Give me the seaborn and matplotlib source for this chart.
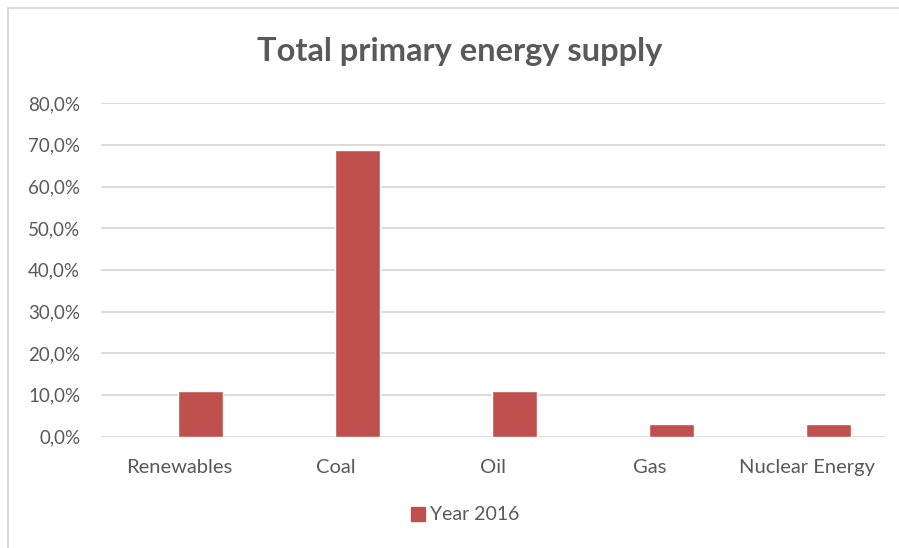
import numpy as np
import pandas as pd
import matplotlib
matplotlib.use("Agg")
import matplotlib.pyplot as plt
import seaborn as sns
from matplotlib.patches import Patch
from matplotlib.lines import Line2D
from matplotlib.ticker import FuncFormatter, MultipleLocator

# Share of total primary energy supply, year 2016 (percent)
categories = ["Renewables", "Coal", "Oil", "Gas", "Nuclear Energy"]
share_2016 = [11.0, 68.8, 11.0, 3.0, 3.0]
series_name = "Year 2016"

df = pd.DataFrame({"source": categories, "share": share_2016})

BAR = "#C0504D"
GRID = "#D9D9D9"
TEXT = "#595959"

sns.set_theme(style="white")
plt.rcParams["font.family"] = ["Lato", "DejaVu Sans"]

W, H = 899, 548
fig = plt.figure(figsize=(W / 100, H / 100), dpi=100)
fig.patch.set_facecolor("white")

# chart-area frame (top and left edges visible)
fig.add_artist(Line2D([8 / W, 8 / W], [0, 1 - 8 / H], transform=fig.transFigure,
                      color=GRID, lw=1.4))
fig.add_artist(Line2D([8 / W, 1], [1 - 8 / H, 1 - 8 / H], transform=fig.transFigure,
                      color=GRID, lw=1.4))

ax = fig.add_axes([101 / W, 1 - 436.5 / H, 784 / W, 333.3 / H])

bar_width = 0.287
shift = 0.137  # bars sit right of the category centre
sns.barplot(data=df, x="source", y="share", color=BAR, width=bar_width,
            saturation=1, ax=ax, zorder=3)

n = len(categories)
pos = np.arange(n)
ax.set_xticks(pos - shift)
ax.set_xticklabels(categories)
ax.set_xlim(-0.5 - shift, n - 0.5 - shift)
ax.set_ylim(0, 80)
ax.yaxis.set_major_locator(MultipleLocator(10))
ax.yaxis.set_major_formatter(FuncFormatter(lambda v, _: f"{v:.1f}".replace(".", ",") + "%"))

ax.grid(axis="y", color=GRID, lw=1.3, zorder=0)
ax.grid(axis="x", visible=False)
for s in ax.spines.values():
    s.set_visible(False)
ax.set_xlabel("")
ax.set_ylabel("")
ax.tick_params(axis="y", length=0, pad=15, labelsize=13.5, labelcolor=TEXT)
ax.tick_params(axis="x", length=0, pad=16, labelsize=14.5, labelcolor=TEXT)
ax.set_facecolor("white")

fig.text(460 / W, 1 - 52 / H, "Total primary energy supply", ha="center", va="center",
         fontsize=23.5, fontweight="bold", color=TEXT)

handle = Patch(facecolor=BAR, edgecolor=BAR)
fig.legend([handle], [series_name], loc="center", bbox_to_anchor=(465 / W, 1 - 515 / H),
           frameon=False, handlelength=0.7, handleheight=0.7, handletextpad=0.25,
           fontsize=14, labelcolor=TEXT)

fig.savefig("out.png", dpi=100, facecolor="white")
